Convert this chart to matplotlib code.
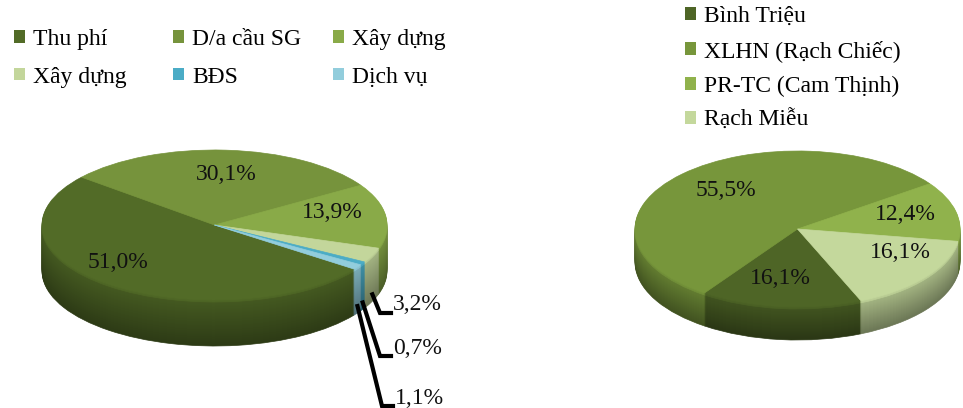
import numpy as np
import matplotlib.pyplot as plt
from matplotlib.colors import to_rgb
from matplotlib.patches import Patch
from matplotlib.transforms import Affine2D

plt.rcParams['font.family'] = ['Liberation Serif', 'DejaVu Serif']

W, H = 963, 408

left_labels = ['Thu phí', 'D/a cầu SG', 'Xây dựng', 'Xây dựng', 'BĐS', 'Dịch vụ']
left_values = [51.0, 30.1, 13.9, 3.2, 0.7, 1.1]
left_colors = ['#526b27', '#76933c', '#89aa48', '#c3d69b', '#4bacc6', '#92cddc']

right_labels = ['Bình Triệu', 'XLHN (Rạch Chiếc)', 'PR-TC (Cam Thịnh)', 'Rạch Miễu']
right_values = [16.1, 55.5, 12.4, 16.1]
right_colors = ['#4e6526', '#77963b', '#90b24c', '#c4d89c']

# label centres in picture pixels (x, y from top)
left_text_pos = [(118, 262), (226, 175), (332, 213), (418, 305), (418, 348), (420, 398)]
right_text_pos = [(780, 278), (726, 190), (905, 215), (900, 252)]

FS = 17
LEFT_START = -36


def shade(c, f):
    return tuple(np.clip(np.array(to_rgb(c)) * f, 0, 1))


def pct(v):
    return f"{v:.1f}".replace('.', ',') + '%'


def pie3d(ax, values, colors, cx, cy, a, b, depth, start):
    # side: stacked copies of the pie, darker to the bottom; top face last
    for k in range(depth, -1, -1):
        if k == 0:
            cols = colors
        elif k <= 2:
            cols = [shade(c, 0.95) for c in colors]
        else:
            t = k / depth
            cols = [shade(c, 0.85 - 0.3 * t) for c in colors]
        wedges, _ = ax.pie(values, colors=cols, startangle=start,
                           counterclock=False)
        tr = Affine2D().scale(a, b).translate(cx, H - cy - k) + ax.transData
        for w in wedges:
            w.set_transform(tr)
            w.set_edgecolor(w.get_facecolor())
            w.set_linewidth(0.5)
    return tr


def column_legend(fig, handles, labels, x, top, spacing):
    leg = fig.legend(handles, labels, loc='upper left',
                     bbox_to_anchor=(x / W, 1 - top / H), frameon=False,
                     fontsize=FS, handlelength=0.45, handleheight=0.45,
                     handletextpad=0.35, borderpad=0, borderaxespad=0,
                     labelspacing=spacing)
    return leg


def main() -> None:
    fig = plt.figure(figsize=(W / 100, H / 100), dpi=100)
    ax = fig.add_axes([0, 0, 1, 1])

    # left pie
    lcx, lcy, la, lb, ldepth = 214.5, 225, 172.5, 75, 46
    pie3d(ax, left_values, left_colors, lcx, lcy, la, lb, ldepth, LEFT_START)
    for v, (x, y) in zip(left_values[:3], left_text_pos[:3]):
        ax.text(x, H - y, pct(v), fontsize=FS, ha='center', va='center',
                color='#111111')

    # small slices with leader lines
    frac = np.array(left_values) / np.sum(left_values)
    ends = LEFT_START - 360 * np.cumsum(frac)
    starts = np.concatenate([[LEFT_START], ends[:-1]])
    for i in range(3, 6):
        mid = np.deg2rad((starts[i] + ends[i]) / 2)
        px = lcx + la * np.cos(mid)
        py = H - (lcy - lb * np.sin(mid)) - ldepth * 0.85
        tx, ty = left_text_pos[i]
        left = tx - 25
        ax.plot([px, left - 13, left - 2], [py, H - ty - 8, H - ty - 8],
                color='black', lw=3, solid_joinstyle='miter')
        ax.text(left, H - ty, pct(left_values[i]), fontsize=FS, ha='left',
                va='center', color='#111111')

    # right pie
    pie3d(ax, right_values, right_colors, 797.5, 229, 162.5, 78, 33, -67)
    for v, (x, y) in zip(right_values, right_text_pos):
        ax.text(x, H - y, pct(v), fontsize=FS, ha='center', va='center',
                color='#111111')

    ax.set_aspect('auto')
    ax.set_xlim(0, W)
    ax.set_ylim(0, H)
    ax.axis('off')

    lh = [Patch(facecolor=c) for c in left_colors]
    cols_x = [14, 173, 333]
    for j in range(3):
        idx = [j, j + 3]
        column_legend(fig, [lh[i] for i in idx], [left_labels[i] for i in idx],
                      cols_x[j], 29, 0.7)

    rh = [Patch(facecolor=c) for c in right_colors]
    column_legend(fig, rh, right_labels, 685, 6, 0.56)

    fig.savefig('out.png', dpi=100)


if __name__ == "__main__":
    main()
